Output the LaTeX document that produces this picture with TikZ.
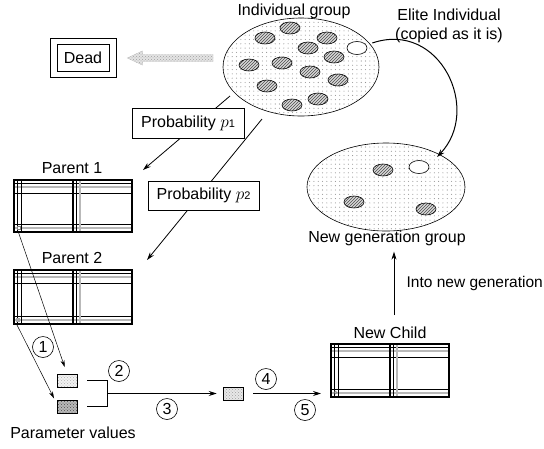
\documentclass[tikz,border=0pt]{standalone}
\usepackage{fontspec}
\setmainfont{Liberation Sans}
\usetikzlibrary{shapes.geometric,patterns,arrows.meta,calc}
\pgfdeclarepatternformonly{sparsedots}{\pgfqpoint{-1pt}{-1pt}}{\pgfqpoint{1pt}{1pt}}{\pgfqpoint{4.3pt}{4.3pt}}%
  {\pgfpathcircle{\pgfqpoint{0pt}{0pt}}{0.55pt}\pgfusepath{fill}}
\pgfdeclarepatternformonly{widehatch}{\pgfqpoint{-1pt}{-1pt}}{\pgfqpoint{4pt}{4pt}}{\pgfqpoint{3pt}{3pt}}%
  {\pgfsetlinewidth{0.6pt}\pgfpathmoveto{\pgfqpoint{0pt}{0pt}}\pgfpathlineto{\pgfqpoint{3.1pt}{3.1pt}}\pgfusepath{stroke}}
\newcommand\genelines[1]{%
 \draw[line width=0.5pt] ($(#1.north west)+(0,3)$) -- ($(#1.north east)+(0,3)$);
 \draw[line width=1.1pt, gray!55] ($(#1.north west)+(0,7)$) -- ($(#1.north east)+(0,7)$);
 \draw[line width=0.6pt] ($(#1.north west)+(0,13)$) -- ($(#1.north east)+(0,13)$);
 \draw[line width=0.6pt] ($(#1.south west)+(0,-8)$) -- ($(#1.south east)+(0,-8)$);
 \draw[line width=1.1pt, gray!55] ($(#1.south west)+(0,-4)$) -- ($(#1.south east)+(0,-4)$);
 \draw[line width=0.5pt] ($(#1.north west)+(3,0)$) -- ($(#1.south west)+(3,0)$);
 \draw[line width=0.6pt] ($(#1.north west)+(7,0)$) -- ($(#1.south west)+(7,0)$);
 \draw[line width=1.6pt] ($(#1.north west)+(59,0)$) -- ($(#1.south west)+(59,0)$);
 \draw[line width=0.5pt] ($(#1.north west)+(62,0)$) -- ($(#1.south west)+(62,0)$);
 \draw[line width=1.1pt, gray!55] ($(#1.north west)+(66,0)$) -- ($(#1.south west)+(66,0)$);
 \draw[line width=1.6pt] (#1.north west) rectangle (#1.south east);
}
\begin{document}
\begin{tikzpicture}[x=1pt,y=-1pt,
  lbl/.style={font=\fontsize{16}{19}\selectfont, inner sep=1pt},
  bigell/.style={ellipse, draw, line width=0.6pt, inner sep=0pt, preaction={fill=white}, pattern=sparsedots, pattern color=gray!85},
  hatch/.style={ellipse, draw, line width=0.6pt, minimum width=20pt, minimum height=12pt, inner sep=0pt, preaction={fill=gray!30}, pattern=widehatch, pattern color=black!70},
  elite/.style={ellipse, draw, line width=0.6pt, fill=white, minimum width=20pt, minimum height=13pt, inner sep=0pt},
  num/.style={circle, draw, line width=0.6pt, minimum size=21pt, inner sep=0pt, font=\fontsize{16}{19}\selectfont},
  probbox/.style={draw, line width=0.6pt, fill=white, inner sep=2pt, font=\fontsize{16}{19}\selectfont},
  genome/.style={draw, line width=1.6pt, outer sep=0pt, inner sep=0pt},
  arr/.style={-{Stealth[length=8pt,width=5pt]}, line width=0.8pt},
  thinarr/.style={-{Stealth[length=7pt,width=4pt]}, line width=0.5pt},
  param/.style={draw, line width=0.5pt, minimum width=20pt, minimum height=13pt, inner sep=0pt},
]
\useasboundingbox (0,0) rectangle (544,448);

% ---- individual group
\node[bigell, minimum width=156pt, minimum height=98pt] (grp) at (301,67) {};
\node[lbl] (grpl) at (294,11) {Individual group};
\foreach \p [count=\i] in {(290,28),(265,38),(327,38),(308,48),(249,65),(282,63),(334,57),(310,72),(338,80),(267,86),(318,99),(292,105)}
  \node[hatch] (e\i) at \p {};
\node[elite] (e0) at (357,48) {};

\node[lbl, align=center] (elitel) at (449,26) {Elite Individual\\(copied as it is)};

% ---- new generation group
\node[bigell, minimum width=158pt, minimum height=88pt] (ng) at (386,187) {};
\node[hatch] (n1) at (383,170) {};
\node[elite] (n0) at (419,167) {};
\node[hatch] (n2) at (354,202) {};
\node[hatch] (n3) at (426,209) {};
\node[lbl] (ngl) at (387,238) {New generation group};

% elite copy arrow
\coordinate (es) at ($(e0.east)+(5,-5)$);
\coordinate (et) at (437,157);
\draw[arr, line width=1pt] (es) .. controls (440,20) and (482,110) .. (et);

% ---- dead
\node[draw, line width=0.6pt, minimum width=66pt, minimum height=39pt] (deadout) at (83,57.5) {};
\node[draw, line width=0.6pt, minimum width=52pt, minimum height=27pt, lbl] (dead) at (83,57.5) {Dead};
\coordinate (dA) at (213,58);
\coordinate (dB) at ($(deadout.east)+(11,0.5)$);
\path[fill=gray!22, draw=gray!45, line width=0.4pt, postaction={pattern=crosshatch dots, pattern color=gray!75}]
  ($(dA)+(0,-3.5)$) -- ($(dB)+(15,-3.5)$) -- ($(dB)+(15,-7)$) -- (dB) -- ($(dB)+(15,7)$) -- ($(dB)+(15,3.5)$) -- ($(dA)+(0,3.5)$) -- cycle;

% ---- selection arrows
\coordinate (s1) at (230,96);
\coordinate (t1) at (143,170);
\coordinate (s2) at (262,119);
\coordinate (t2) at (147,260);
\draw[arr] (s1) -- (t1);
\draw[arr] (s2) -- (t2);
\node[probbox, minimum width=112pt, minimum height=30pt] (pb1) at (188,123) {Probability $p${\fontsize{11}{12}\selectfont 1}};
\node[probbox, minimum width=111pt, minimum height=29pt] (pb2) at (203.5,195.5) {Probability $p${\fontsize{11}{12}\selectfont 2}};

% ---- parents
\node[lbl] (p1l) at (72,168) {Parent 1};
\node[genome, minimum width=118pt, minimum height=52pt] (par1) at (73,206) {};
\genelines{par1}
\draw[line width=0.4pt, gray, fill=white] ($(par1.south west)+(3,-6)$) rectangle ($(par1.south west)+(6,-3)$);

\node[lbl] (p2l) at (72,258) {Parent 2};
\node[genome, minimum width=118pt, minimum height=54pt] (par2) at (73,297) {};
\genelines{par2}
\fill[gray!70] ($(par2.south west)+(2,-6)$) rectangle ($(par2.south west)+(6,-2)$);

% ---- new child
\node[lbl] (ncl) at (390,333) {New Child};
\node[genome, minimum width=118pt, minimum height=53pt] (nc) at (390,370.5) {};
\genelines{nc}
\draw[line width=0.4pt, gray] ($(nc.south west)+(4.5,-4.5)$) circle (1.5);

% ---- parameter values
\node[param, preaction={fill=gray!10}, pattern=crosshatch dots, pattern color=gray!60] (sq1) at (67,380.5) {};
\node[param, preaction={fill=gray!55}, pattern=crosshatch dots, pattern color=black!70] (sq2) at (67,406.5) {};
\node[param, preaction={fill=gray!18}, pattern=crosshatch dots, pattern color=gray!75] (sq3) at (233,393.5) {};
\node[lbl] (pvl) at (73,433) {Parameter values};

\coordinate (c1) at ($(par1.south west)+(4,-1)$);
\coordinate (c2) at ($(par2.south west)+(2,-1)$);
\draw[thinarr, shorten >=7pt] (c1) -- (sq1.north);
\draw[thinarr, shorten >=6pt] (c2) -- (sq2.165);

\coordinate (b1) at ($(sq1.east)+(10,0)$);
\coordinate (b2) at ($(sq2.east)+(10,0)$);
\coordinate (bx) at ($(b1)!0.5!(b2)+(20,0)$);
\draw[line width=0.8pt] (b1) -- (b1 -| bx) -- (b2 -| bx) -- (b2);
\draw[arr, shorten >=6pt] (bx) -- (sq3.west);
\draw[arr, shorten >=10pt] ($(sq3.east)+(10,0)$) -- (sq3.east -| nc.west);

% ---- into new generation
\coordinate (up1) at (394,315);
\draw[arr, shorten >=5pt] (up1) -- (up1 |- ngl.south);
\node[font=\fontsize{15.5}{18}\selectfont, anchor=east, inner sep=0pt] (intl) at (543,283) {Into new generation};

% ---- step numbers
\node[num] (k1) at (43,347) {1};
\node[num] (k2) at (119,371) {2};
\node[num] (k3) at (167,409) {3};
\node[num] (k4) at (266,379) {4};
\node[num] (k5) at (305,410) {5};
\end{tikzpicture}
\end{document}
